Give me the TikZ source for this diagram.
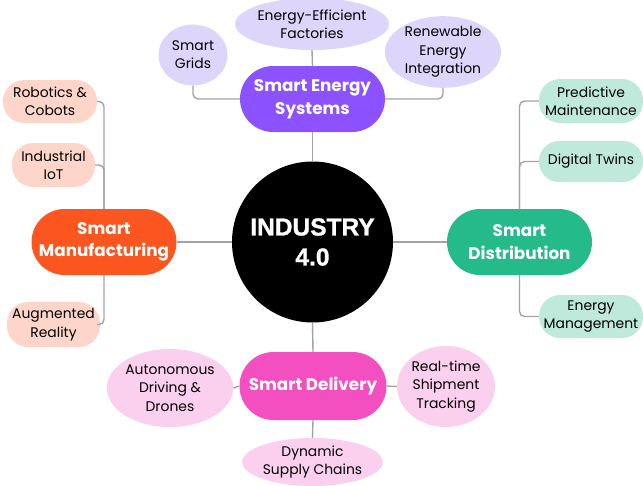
\documentclass[tikz,border=0pt]{standalone}
\usepackage{fontspec}
\setmainfont{Poppins}
\newfontfamily\hubfont{Liberation Sans}[UprightFont={* Bold}, FakeBold=1.2]
\usetikzlibrary{shapes.geometric}
\definecolor{purp}{HTML}{8C52FF}
\definecolor{lav}{HTML}{DDD5FA}
\definecolor{oran}{HTML}{FB561F}
\definecolor{peach}{HTML}{FDD6C9}
\definecolor{grn}{HTML}{25BA8A}
\definecolor{mint}{HTML}{BFE9DB}
\definecolor{mag}{HTML}{F44FC0}
\definecolor{pink}{HTML}{FBD0EE}
\definecolor{conn}{HTML}{A3A3A3}
\tikzset{
  mainpill/.style={fill=#1, text=white, font=\fontsize{16.8}{22.5}\selectfont\bfseries, align=center,
    minimum width=145pt, minimum height=66pt, rounded corners=33pt, inner sep=0pt},
  subpill/.style={fill=#1, text=black, font=\fontsize{13.9}{18.3}\selectfont, align=center,
    rounded corners=21pt, inner sep=0pt},
  subell/.style={ellipse, fill=#1, text=black, font=\fontsize{13.9}{18.3}\selectfont, align=center, inner sep=0pt},
  link/.style={draw=conn, line width=1.4pt, rounded corners=5pt},
}
\begin{document}
\begin{tikzpicture}[x=1pt, y=-1pt]
\useasboundingbox (0,0) rectangle (643,485);
% hub
\node[circle, fill=black, minimum size=161pt, inner sep=0pt, text=white, align=center,
  font=\hubfont\fontsize{24.5}{30}\selectfont] (ind) at (312.5,242) {INDUSTRY\\4.0};
% main nodes
\node[mainpill=purp] (ses) at (312.5,99) {Smart Energy\\Systems};
\node[mainpill=oran] (man) at (104,242) {Smart\\Manufacturing};
\node[mainpill=grn] (dist) at (519.5,242) {Smart\\Distribution};
\node[mainpill=mag, minimum width=147pt, minimum height=68pt, rounded corners=34pt] (del) at (313,386) {Smart Delivery};
% energy subs
\node[subell=lav, minimum width=148pt, minimum height=52pt] (eef) at (312,24) {Energy-Efficient\\Factories};
\node[subell=lav, minimum width=69pt, minimum height=61pt] (grid) at (193,55) {Smart\\Grids};
\node[subell=lav, minimum width=116pt, minimum height=70pt] (ren) at (443,52) {Renewable\\Energy\\Integration};
% manufacturing subs
\node[subpill=peach, minimum width=94pt, minimum height=43pt] (rob) at (50,101.5) {Robotics \&\\Cobots};
\node[subpill=peach, minimum width=83pt, minimum height=44pt] (iot) at (53.5,165) {Industrial\\IoT};
\node[subpill=peach, minimum width=93pt, minimum height=45pt] (ar) at (53.5,324.5) {Augmented\\Reality};
% distribution subs
\node[subpill=mint, minimum width=104pt, minimum height=44pt] (pm) at (591,101) {Predictive\\Maintenance};
\node[subpill=mint, minimum width=104pt, minimum height=41pt, rounded corners=20pt] (dt) at (591,161.5) {Digital Twins};
\node[subpill=mint, minimum width=104pt, minimum height=43pt] (em) at (591,316.5) {Energy\\Management};
% delivery subs
\node[subell=pink, minimum width=116pt, minimum height=78pt] (auto) at (170,388) {Autonomous\\Driving \&\\Drones};
\node[subell=pink, minimum width=98pt, minimum height=81pt] (rt) at (446,386.5) {Real-time\\Shipment\\Tracking};
\node[subell=pink, minimum width=131pt, minimum height=48pt] (dyn) at (312.5,462) {Dynamic\\Supply Chains};
% connectors
\draw[link] (ses.south) -- (ind.north);
\draw[link] (man.east) -- (ind.west);
\draw[link] (ind.east) -- (dist.west);
\draw[link] (ind.south) -- (del.north);
\draw[link] (eef.south) -- (ses.north);
\draw[link] (grid.south) |- (ses.west);
\draw[link] (ren.south) |- (ses.east);
\draw[link] (rob.east) -| (man.north);
\draw[link] (iot.east) -| (man.north);
\draw[link] (man.south) |- (ar.east);
\draw[link] (pm.west) -| (dist.north);
\draw[link] (dt.west) -| (dist.north);
\draw[link] (dist.south) |- (em.west);
\draw[link] (auto.east) -- (del.west);
\draw[link] (rt.west) -- (del.east);
\draw[link] (dyn.north) -- (del.south);
\end{tikzpicture}
\end{document}
